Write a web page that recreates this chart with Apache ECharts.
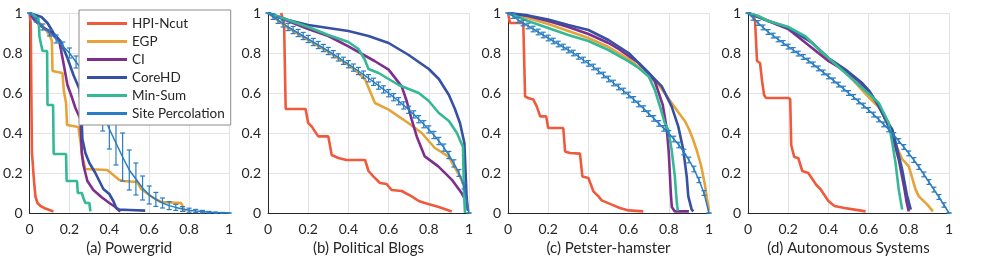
<!DOCTYPE html>
<html><head><meta charset="utf-8">
<script src="https://cdn.jsdelivr.net/npm/echarts@6/dist/echarts.min.js"></script>
<style>html,body{margin:0;padding:0;background:#fff}#c{width:981px;height:267px}</style>
</head><body><div id="c"></div>
<script>
// ---------- tick labels / names ----------
const tickValues = [0, 0.2, 0.4, 0.6, 0.8, 1];
const tickLabels = ['0', '0.2', '0.4', '0.6', '0.8', '1'];
const panelNames = ['(a) Powergrid', '(b) Political Blogs', '(c) Petster-hamster', '(d) Autonomous Systems'];
const methodNames = ['HPI-Ncut', 'EGP', 'CI', 'CoreHD', 'Min-Sum', 'Site Percolation'];

// ---------- (a) Powergrid ----------
const aHpiX = [0, 0.006, 0.009, 0.012, 0.016, 0.02, 0.025, 0.03, 0.04, 0.055, 0.08, 0.1, 0.12];
const aHpiY = [1, 0.95, 0.6, 0.3, 0.25, 0.19, 0.13, 0.08, 0.05, 0.035, 0.022, 0.015, 0.008];
const aEgpX = [0, 0.02, 0.05, 0.08, 0.105, 0.112, 0.115, 0.165, 0.172, 0.183, 0.188, 0.245, 0.255, 0.265, 0.28, 0.39, 0.42, 0.45, 0.47, 0.54, 0.56, 0.6, 0.63, 0.66, 0.76, 0.78];
const aEgpY = [1, 0.98, 0.95, 0.92, 0.88, 0.86, 0.71, 0.70, 0.61, 0.55, 0.44, 0.43, 0.36, 0.28, 0.22, 0.215, 0.19, 0.165, 0.16, 0.155, 0.12, 0.09, 0.07, 0.055, 0.05, 0.005];
const aCiX = [0, 0.02, 0.04, 0.07, 0.11, 0.15, 0.17, 0.19, 0.21, 0.23, 0.255, 0.262, 0.27, 0.29, 0.32, 0.36, 0.4, 0.43, 0.455];
const aCiY = [1, 0.97, 0.95, 0.925, 0.905, 0.855, 0.75, 0.64, 0.585, 0.525, 0.47, 0.3, 0.24, 0.16, 0.115, 0.08, 0.05, 0.03, 0.007];
const aCoreX = [0, 0.03, 0.06, 0.09, 0.12, 0.155, 0.19, 0.22, 0.25, 0.26, 0.265, 0.28, 0.3, 0.33, 0.35, 0.37, 0.4, 0.42, 0.435, 0.45, 0.5, 0.58];
const aCoreY = [1, 0.99, 0.98, 0.95, 0.9, 0.86, 0.775, 0.69, 0.62, 0.5, 0.37, 0.3, 0.25, 0.2, 0.16, 0.12, 0.095, 0.06, 0.025, 0.017, 0.015, 0.012];
const aMinX = [0, 0.02, 0.045, 0.05, 0.06, 0.065, 0.088, 0.09, 0.118, 0.121, 0.183, 0.186, 0.238, 0.242, 0.262, 0.27, 0.28, 0.3, 0.305];
const aMinY = [1, 0.99, 0.97, 0.88, 0.88, 0.81, 0.81, 0.54, 0.54, 0.295, 0.295, 0.16, 0.16, 0.10, 0.10, 0.075, 0.05, 0.05, 0.008];
const aSpX = [0, 0.0333, 0.0667, 0.1, 0.1333, 0.1667, 0.2, 0.2333, 0.2667, 0.3, 0.3333, 0.3667, 0.4, 0.4333, 0.4667, 0.5, 0.5333, 0.5667, 0.6, 0.6333, 0.6667, 0.7, 0.7333, 0.7667, 0.8, 0.8333, 0.8667, 0.9, 0.9333, 0.9667, 1];
const aSpY = [1, 0.965, 0.93, 0.9, 0.87, 0.835, 0.8, 0.755, 0.71, 0.65, 0.58, 0.5, 0.42, 0.35, 0.28, 0.215, 0.17, 0.125, 0.09, 0.068, 0.05, 0.037, 0.028, 0.02, 0.014, 0.01, 0.007, 0.004, 0.002, 0.001, 0];
const aSpE = [0, 0.01, 0.015, 0.015, 0.02, 0.02, 0.025, 0.03, 0.04, 0.05, 0.07, 0.09, 0.1, 0.11, 0.12, 0.1, 0.08, 0.06, 0.045, 0.035, 0.025, 0.02, 0.015, 0.012, 0.01, 0.008, 0.006, 0.004, 0.003, 0.002, 0];

// ---------- (b) Political Blogs ----------
const bHpiX = [0.065, 0.08, 0.088, 0.187, 0.2, 0.217, 0.25, 0.3, 0.317, 0.35, 0.39, 0.483, 0.5, 0.524, 0.557, 0.59, 0.615, 0.665, 0.715, 0.75, 0.78, 0.85, 0.914];
const bHpiY = [1, 0.95, 0.52, 0.52, 0.45, 0.433, 0.383, 0.383, 0.29, 0.275, 0.265, 0.265, 0.21, 0.183, 0.15, 0.145, 0.115, 0.11, 0.083, 0.06, 0.05, 0.03, 0.008];
const bEgpX = [0, 0.1, 0.2, 0.3, 0.4, 0.45, 0.483, 0.532, 0.6, 0.698, 0.765, 0.83, 0.897, 0.955, 0.977, 0.988];
const bEgpY = [1, 0.925, 0.865, 0.805, 0.74, 0.7, 0.667, 0.55, 0.517, 0.45, 0.4, 0.325, 0.283, 0.183, 0.133, 0.017];
const bCiX = [0, 0.1, 0.2, 0.3, 0.4, 0.53, 0.6, 0.665, 0.69, 0.715, 0.74, 0.78, 0.847, 0.914, 0.963, 0.977];
const bCiY = [1, 0.96, 0.92, 0.885, 0.833, 0.76, 0.717, 0.633, 0.56, 0.467, 0.383, 0.283, 0.233, 0.167, 0.1, 0.075];
const bCoreX = [0, 0.1, 0.2, 0.3, 0.4, 0.5, 0.6, 0.7, 0.8, 0.85, 0.9, 0.93, 0.955, 0.977, 0.988, 0.995];
const bCoreY = [1, 0.965, 0.94, 0.925, 0.91, 0.885, 0.85, 0.79, 0.72, 0.67, 0.59, 0.52, 0.45, 0.35, 0.08, 0.01];
const bMinX = [0, 0.1, 0.2, 0.3, 0.4, 0.45, 0.48, 0.5, 0.55, 0.6, 0.65, 0.7, 0.75, 0.8, 0.85, 0.9, 0.94, 0.97, 0.975, 0.98];
const bMinY = [1, 0.965, 0.93, 0.89, 0.855, 0.82, 0.77, 0.72, 0.7, 0.67, 0.64, 0.62, 0.6, 0.56, 0.5, 0.46, 0.4, 0.33, 0.1, 0.0];
const spX40 = [0, 0.025, 0.05, 0.075, 0.1, 0.125, 0.15, 0.175, 0.2, 0.225, 0.25, 0.275, 0.3, 0.325, 0.35, 0.375, 0.4, 0.425, 0.45, 0.475, 0.5, 0.525, 0.55, 0.575, 0.6, 0.625, 0.65, 0.675, 0.7, 0.725, 0.75, 0.775, 0.8, 0.825, 0.85, 0.875, 0.9, 0.925, 0.95, 0.975, 1];
const bSpY = [1, 0.982, 0.964, 0.947, 0.93, 0.915, 0.9, 0.885, 0.87, 0.855, 0.84, 0.825, 0.81, 0.794, 0.778, 0.761, 0.744, 0.727, 0.71, 0.692, 0.674, 0.656, 0.637, 0.618, 0.599, 0.579, 0.559, 0.538, 0.516, 0.493, 0.469, 0.444, 0.418, 0.39, 0.36, 0.327, 0.29, 0.248, 0.2, 0.135, 0];
const bSpE = [0, 0.014, 0.016, 0.017, 0.018, 0.018, 0.018, 0.018, 0.018, 0.018, 0.018, 0.018, 0.018, 0.018, 0.018, 0.018, 0.018, 0.018, 0.018, 0.018, 0.018, 0.018, 0.018, 0.018, 0.018, 0.018, 0.018, 0.018, 0.018, 0.018, 0.018, 0.018, 0.018, 0.018, 0.018, 0.018, 0.018, 0.018, 0.017, 0.015, 0];

// ---------- (c) Petster-hamster ----------
const cHpiX = [0, 0.01, 0.076, 0.085, 0.1, 0.126, 0.143, 0.16, 0.19, 0.2, 0.275, 0.284, 0.308, 0.358, 0.37, 0.4, 0.425, 0.45, 0.466, 0.516, 0.557, 0.6, 0.673];
const cHpiY = [1, 0.95, 0.95, 0.583, 0.575, 0.567, 0.533, 0.483, 0.483, 0.425, 0.425, 0.308, 0.3, 0.297, 0.183, 0.175, 0.108, 0.083, 0.063, 0.042, 0.025, 0.013, 0.008];
const cEgpX = [0, 0.1, 0.2, 0.3, 0.4, 0.5, 0.6, 0.65, 0.7, 0.75, 0.8, 0.85, 0.88, 0.9, 0.92, 0.94, 0.96, 0.98, 0.99, 1.0];
const cEgpY = [1, 0.975, 0.945, 0.91, 0.875, 0.83, 0.77, 0.73, 0.685, 0.64, 0.57, 0.5, 0.46, 0.42, 0.37, 0.31, 0.24, 0.14, 0.07, 0.01];
const cCiX = [0, 0.1, 0.2, 0.3, 0.4, 0.5, 0.55, 0.6, 0.65, 0.7, 0.73, 0.75, 0.77, 0.78, 0.79, 0.8, 0.805, 0.81, 0.815, 0.83, 0.9];
const cCiY = [1, 0.985, 0.96, 0.93, 0.895, 0.85, 0.82, 0.785, 0.75, 0.7, 0.66, 0.6, 0.54, 0.48, 0.42, 0.3, 0.2, 0.1, 0.03, 0.008, 0.008];
const cCoreX = [0, 0.1, 0.2, 0.3, 0.4, 0.5, 0.6, 0.7, 0.765, 0.814, 0.847, 0.872, 0.889, 0.897, 0.914, 0.922];
const cCoreY = [1, 0.988, 0.967, 0.94, 0.915, 0.865, 0.8, 0.7, 0.633, 0.533, 0.433, 0.317, 0.183, 0.083, 0.017, 0.008];
const cMinX = [0, 0.1, 0.2, 0.3, 0.4, 0.5, 0.6, 0.65, 0.7, 0.73, 0.756, 0.78, 0.797, 0.814, 0.83, 0.84, 0.845];
const cMinY = [1, 0.96, 0.925, 0.89, 0.86, 0.815, 0.758, 0.725, 0.683, 0.617, 0.533, 0.45, 0.417, 0.317, 0.183, 0.05, 0.01];
const cSpY = [1, 0.985, 0.965, 0.95, 0.935, 0.92, 0.905, 0.89, 0.875, 0.86, 0.845, 0.83, 0.815, 0.8, 0.783, 0.765, 0.748, 0.73, 0.71, 0.69, 0.67, 0.65, 0.63, 0.61, 0.59, 0.568, 0.545, 0.522, 0.497, 0.473, 0.448, 0.423, 0.398, 0.37, 0.34, 0.305, 0.265, 0.22, 0.165, 0.1, 0];
const cSpE = [0, 0.012, 0.013, 0.014, 0.014, 0.014, 0.014, 0.014, 0.014, 0.014, 0.014, 0.014, 0.014, 0.014, 0.014, 0.014, 0.014, 0.014, 0.014, 0.014, 0.014, 0.014, 0.014, 0.014, 0.014, 0.014, 0.014, 0.014, 0.014, 0.014, 0.014, 0.014, 0.014, 0.014, 0.014, 0.014, 0.014, 0.014, 0.013, 0.012, 0];

// ---------- (d) Autonomous Systems ----------
const dHpiX = [0.025, 0.035, 0.045, 0.06, 0.07, 0.08, 0.09, 0.2, 0.21, 0.215, 0.23, 0.25, 0.27, 0.3, 0.32, 0.34, 0.36, 0.38, 0.4, 0.43, 0.48, 0.53, 0.585];
const dHpiY = [1, 0.96, 0.76, 0.75, 0.66, 0.59, 0.575, 0.575, 0.57, 0.34, 0.28, 0.275, 0.21, 0.2, 0.17, 0.14, 0.12, 0.09, 0.06, 0.035, 0.025, 0.017, 0.008];
const dEgpX = [0, 0.05, 0.1, 0.2, 0.3, 0.4, 0.5, 0.6, 0.65, 0.7, 0.72, 0.74, 0.767, 0.8, 0.834, 0.85, 0.892, 0.92];
const dEgpY = [1, 0.985, 0.96, 0.93, 0.87, 0.77, 0.69, 0.58, 0.53, 0.45, 0.4, 0.33, 0.27, 0.233, 0.117, 0.083, 0.042, 0.008];
const dCiX = [0, 0.1, 0.2, 0.3, 0.4, 0.45, 0.5, 0.55, 0.6, 0.65, 0.7, 0.72, 0.75, 0.776, 0.79, 0.8];
const dCiY = [1, 0.96, 0.92, 0.84, 0.76, 0.73, 0.7, 0.66, 0.61, 0.54, 0.43, 0.38, 0.267, 0.133, 0.05, 0.008];
const dCoreX = [0, 0.086, 0.2, 0.32, 0.4, 0.485, 0.568, 0.605, 0.651, 0.684, 0.718, 0.743, 0.767, 0.792, 0.81];
const dCoreY = [1, 0.967, 0.925, 0.85, 0.775, 0.717, 0.65, 0.608, 0.533, 0.467, 0.417, 0.317, 0.217, 0.083, 0.017];
const dMinX = [0, 0.05, 0.1, 0.2, 0.286, 0.35, 0.4, 0.485, 0.568, 0.651, 0.7, 0.718, 0.734, 0.75, 0.767];
const dMinY = [1, 0.985, 0.96, 0.93, 0.883, 0.82, 0.775, 0.7, 0.625, 0.55, 0.45, 0.35, 0.25, 0.117, 0.017];
const dSpY = [1, 0.975, 0.95, 0.928, 0.905, 0.887, 0.868, 0.85, 0.832, 0.815, 0.797, 0.78, 0.762, 0.743, 0.723, 0.703, 0.683, 0.663, 0.642, 0.622, 0.6, 0.58, 0.558, 0.537, 0.515, 0.492, 0.468, 0.443, 0.418, 0.39, 0.36, 0.33, 0.298, 0.265, 0.23, 0.193, 0.155, 0.117, 0.08, 0.04, 0];
const dSpE = [0, 0.011, 0.012, 0.012, 0.012, 0.012, 0.012, 0.012, 0.012, 0.012, 0.012, 0.012, 0.012, 0.012, 0.012, 0.012, 0.012, 0.012, 0.012, 0.012, 0.012, 0.012, 0.012, 0.012, 0.012, 0.012, 0.012, 0.012, 0.012, 0.012, 0.012, 0.012, 0.012, 0.012, 0.012, 0.012, 0.012, 0.012, 0.012, 0.011, 0];

// ---------- build ----------
const colors = ['#F05A3C', '#E5A33A', '#7E2F8E', '#3651A3', '#34B996', '#2A7DC2'];
const panels = [
  [[aHpiX, aHpiY], [aEgpX, aEgpY], [aCiX, aCiY], [aCoreX, aCoreY], [aMinX, aMinY], [aSpX, aSpY, aSpE]],
  [[bHpiX, bHpiY], [bEgpX, bEgpY], [bCiX, bCiY], [bCoreX, bCoreY], [bMinX, bMinY], [spX40, bSpY, bSpE]],
  [[cHpiX, cHpiY], [cEgpX, cEgpY], [cCiX, cCiY], [cCoreX, cCoreY], [cMinX, cMinY], [spX40, cSpY, cSpE]],
  [[dHpiX, dHpiY], [dEgpX, dEgpY], [dCiX, dCiY], [dCoreX, dCoreY], [dMinX, dMinY], [spX40, dSpY, dSpE]]
];
const FONT = 'Lato';
const TXT = '#262626';
const grids = [], xAxes = [], yAxes = [], series = [];
const fmt = v => { const i = tickValues.findIndex(t => Math.abs(t - v) < 1e-6); return i >= 0 ? tickLabels[i] : ''; };
panels.forEach((p, gi) => {
  grids.push({ left: 28 + 240 * gi, top: 13, width: 201, height: 200 });
  const common = {
    gridIndex: gi, type: 'value', min: 0, max: 1, interval: 0.2,
    axisLine: { show: true, lineStyle: { color: '#262626', width: 1 } },
    axisTick: { show: false },
    splitLine: { show: true, lineStyle: { color: '#e3e3e3', width: 1 } },
    axisLabel: { formatter: fmt, color: TXT, fontFamily: FONT, fontSize: 14 }
  };
  xAxes.push(Object.assign({}, common, {
    axisLabel: Object.assign({}, common.axisLabel, { margin: 9 }),
    name: panelNames[gi], nameLocation: 'middle', nameGap: 26,
    nameTextStyle: { color: TXT, fontFamily: FONT, fontSize: 15 }
  }));
  yAxes.push(Object.assign({}, common, { axisLabel: Object.assign({}, common.axisLabel, { margin: 7 }) }));
  p.forEach((d, mi) => {
    const xs = d[0], ys = d[1];
    const isSp = mi === 5;
    series.push({
      type: 'line', name: methodNames[mi], xAxisIndex: gi, yAxisIndex: gi,
      data: xs.map((x, i) => [x, ys[i]]), symbol: 'none', showSymbol: false,
      lineStyle: { color: colors[mi], width: isSp ? 1.5 : 2.6 }, itemStyle: { color: colors[mi] },
      animation: false, silent: true, z: 2 + mi * 0.1
    });
    if (isSp) {
      const es = d[2];
      const col = colors[mi];
      series.push({
        type: 'custom', name: 'Site Percolation error', xAxisIndex: gi, yAxisIndex: gi,
        data: xs.map((x, i) => [x, ys[i] - es[i], ys[i] + es[i]]),
        encode: { x: 0, y: [1, 2] }, animation: false, silent: true, z: 3,
        renderItem: (params, api) => {
          const lo = api.coord([api.value(0), api.value(1)]);
          const hi = api.coord([api.value(0), api.value(2)]);
          const hw = 2.5;
          const st = { stroke: col, lineWidth: 1.2 };
          return { type: 'group', children: [
            { type: 'line', shape: { x1: lo[0], y1: lo[1], x2: hi[0], y2: hi[1] }, style: st },
            { type: 'line', shape: { x1: lo[0] - hw, y1: lo[1], x2: lo[0] + hw, y2: lo[1] }, style: st },
            { type: 'line', shape: { x1: hi[0] - hw, y1: hi[1], x2: hi[0] + hw, y2: hi[1] }, style: st }
          ]};
        }
      });
    }
  });
});
const chart = echarts.init(document.getElementById('c'), null, { renderer: 'canvas' });
chart.setOption({
  backgroundColor: '#ffffff',
  animation: false,
  textStyle: { fontFamily: FONT },
  grid: grids, xAxis: xAxes, yAxis: yAxes, series: series,
  legend: {
    data: methodNames.map((n, i) => ({ name: n, icon: 'rect', itemStyle: { color: colors[i] } })),
    orient: 'vertical', left: 79, top: 10,
    padding: [6, 6, 4, 8], itemGap: 3, itemWidth: 40, itemHeight: 3,
    backgroundColor: '#ffffff', borderColor: '#8c8c8c', borderWidth: 1, borderRadius: 0,
    textStyle: { color: TXT, fontFamily: FONT, fontSize: 13.5, lineHeight: 15 }, selectedMode: false, z: 10
  }
});
</script></body></html>
